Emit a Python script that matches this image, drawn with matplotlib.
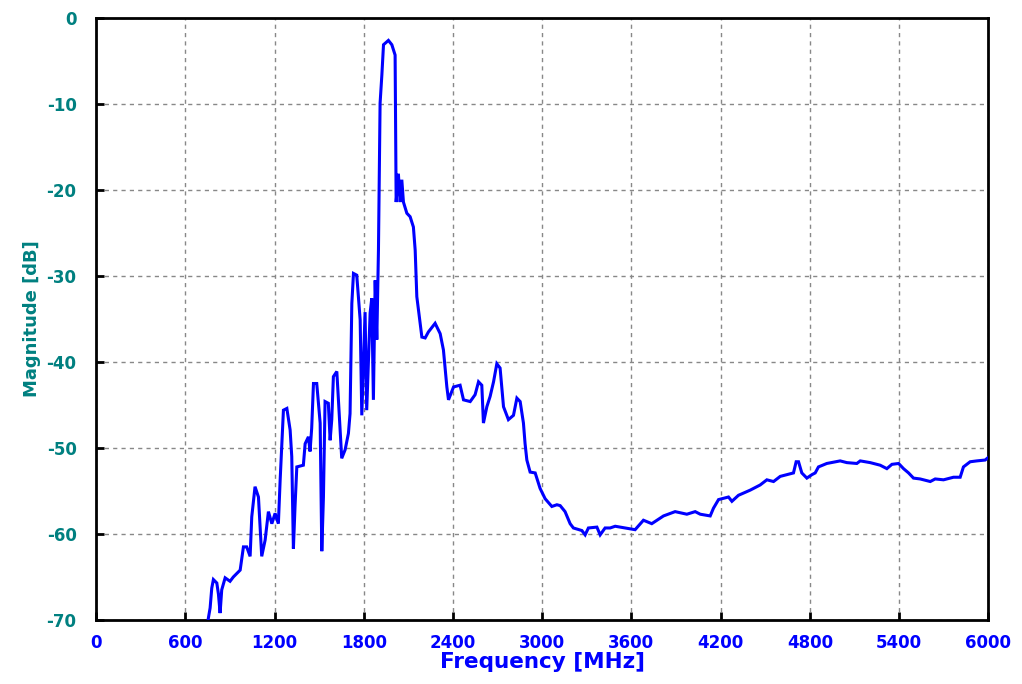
#!/usr/bin/env python3
"""
Magnitude response of a band-pass measurement, 0 - 6000 MHz
"""

import matplotlib
matplotlib.use("Agg")
import matplotlib.pyplot as plt

# frequency points [MHz] and magnitude [dB]
freq = [740, 755, 767, 778, 789, 812, 823, 834, 845, 868, 901, 923, 969, 991,
        1013, 1036, 1047, 1069, 1092, 1114, 1137, 1159, 1182, 1204, 1226, 1238,
        1260, 1283, 1305, 1316, 1327, 1338, 1350, 1394, 1406, 1428, 1439, 1450,
        1462, 1484, 1507, 1518, 1529, 1540, 1562, 1574, 1585, 1596, 1619, 1630,
        1652, 1675, 1697, 1708, 1720, 1731, 1753, 1776, 1787, 1809, 1820, 1843,
        1854, 1865, 1877, 1888, 1899, 1910, 1922, 1933, 1966, 1989, 2011, 2018,
        2033, 2045, 2056, 2067, 2090, 2112, 2134, 2146, 2157, 2179, 2191, 2213,
        2235, 2280, 2314, 2336, 2359, 2370, 2404, 2448, 2471, 2516, 2549, 2572,
        2594, 2605, 2628, 2650, 2673, 2695, 2717, 2740, 2773, 2807, 2830, 2852,
        2874, 2885, 2897, 2919, 2953, 2986, 3020, 3065, 3099, 3121, 3154, 3188,
        3210, 3267, 3289, 3311, 3368, 3390, 3423, 3457, 3491, 3625, 3681, 3737,
        3816, 3894, 3973, 4029, 4063, 4130, 4152, 4186, 4253, 4276, 4320, 4399,
        4466, 4511, 4556, 4601, 4646, 4690, 4708, 4724, 4746, 4780, 4814, 4836,
        4858, 4914, 5004, 5049, 5116, 5139, 5206, 5273, 5318, 5352, 5397, 5430,
        5464, 5497, 5542, 5610, 5643, 5699, 5766, 5811, 5833, 5878, 5923, 5979,
        6000]
mag = [-72.0, -69.8, -68.6, -66.3, -65.3, -65.7, -67.0, -69.2, -66.5, -65.1,
       -65.5, -65.0, -64.2, -61.5, -61.5, -62.6, -58.0, -54.5, -55.7, -62.6,
       -60.7, -57.4, -58.8, -57.6, -58.8, -53.7, -45.6, -45.4, -47.9, -51.0,
       -61.7, -56.8, -52.2, -52.0, -49.5, -48.7, -50.4, -47.7, -42.5, -42.5,
       -47.1, -62.0, -55.7, -44.6, -44.8, -49.1, -46.7, -41.7, -41.1, -44.4,
       -51.2, -50.2, -48.3, -46.0, -33.2, -29.7, -29.9, -35.1, -46.2, -34.2,
       -45.6, -34.3, -32.6, -44.4, -30.5, -37.4, -27.0, -9.9, -6.6, -3.1,
       -2.6, -3.1, -4.3, -21.4, -18.1, -21.4, -18.8, -21.4, -22.7, -23.1,
       -24.3, -27.0, -32.4, -35.5, -37.1, -37.2, -36.5, -35.5, -36.7, -38.6,
       -42.9, -44.4, -42.9, -42.7, -44.4, -44.6, -43.8, -42.3, -42.7, -47.1,
       -45.2, -44.0, -42.3, -40.2, -40.7, -45.2, -46.7, -46.2, -44.2, -44.6,
       -47.1, -49.5, -51.4, -52.8, -52.9, -54.7, -55.9, -56.8, -56.6, -56.7,
       -57.4, -58.8, -59.3, -59.6, -60.1, -59.3, -59.2, -60.1, -59.3, -59.3,
       -59.1, -59.5, -58.4, -58.8, -57.9, -57.4, -57.7, -57.4, -57.7, -57.9,
       -57.0, -56.0, -55.7, -56.2, -55.5, -54.9, -54.3, -53.7, -53.9, -53.3,
       -53.1, -52.9, -51.6, -51.6, -52.9, -53.5, -53.1, -52.9, -52.2, -51.8,
       -51.5, -51.7, -51.8, -51.5, -51.7, -52.0, -52.4, -51.9, -51.8, -52.4,
       -52.9, -53.5, -53.6, -53.9, -53.6, -53.7, -53.4, -53.4, -52.2, -51.6,
       -51.5, -51.4, -51.1]

x_ticks = [0, 600, 1200, 1800, 2400, 3000, 3600, 4200, 4800, 5400, 6000]
y_ticks = [0, -10, -20, -30, -40, -50, -60, -70]

TEAL = '#008080'
BLUE = '#0000ff'

plt.rcParams['font.family'] = ['DejaVu Sans']
plt.rcParams['axes.unicode_minus'] = False

fig = plt.figure(figsize=(10.22, 6.84), dpi=100)
ax = fig.add_axes([0.094, 0.0936, 0.873, 0.880])

ax.plot(freq, mag, color=BLUE, linewidth=2.2, solid_joinstyle='miter', zorder=3)

ax.set_xlim(0, 6000)
ax.set_ylim(-70, 0)
ax.set_xticks(x_ticks)
ax.set_yticks(y_ticks)

# dashed grey grid
ax.grid(True, color='#888888', linestyle=(0, (3, 3)), linewidth=1.0, zorder=1)

for sp in ax.spines.values():
    sp.set_linewidth(2.0)
    sp.set_color('black')

ax.tick_params(axis='both', direction='in', length=6, width=2, color='black')
ax.tick_params(axis='x', labelcolor=BLUE, labelsize=12, pad=10)
ax.tick_params(axis='y', labelcolor=TEAL, labelsize=12, pad=14)
for lab in ax.get_xticklabels() + ax.get_yticklabels():
    lab.set_fontweight('bold')

ax.set_xlabel('Frequency [MHz]', color=BLUE, fontsize=15.5, fontweight='bold', labelpad=0)
ax.set_ylabel('Magnitude [dB]', color=TEAL, fontsize=13, fontweight='bold', labelpad=4)

plt.savefig('out.png', dpi=100)
